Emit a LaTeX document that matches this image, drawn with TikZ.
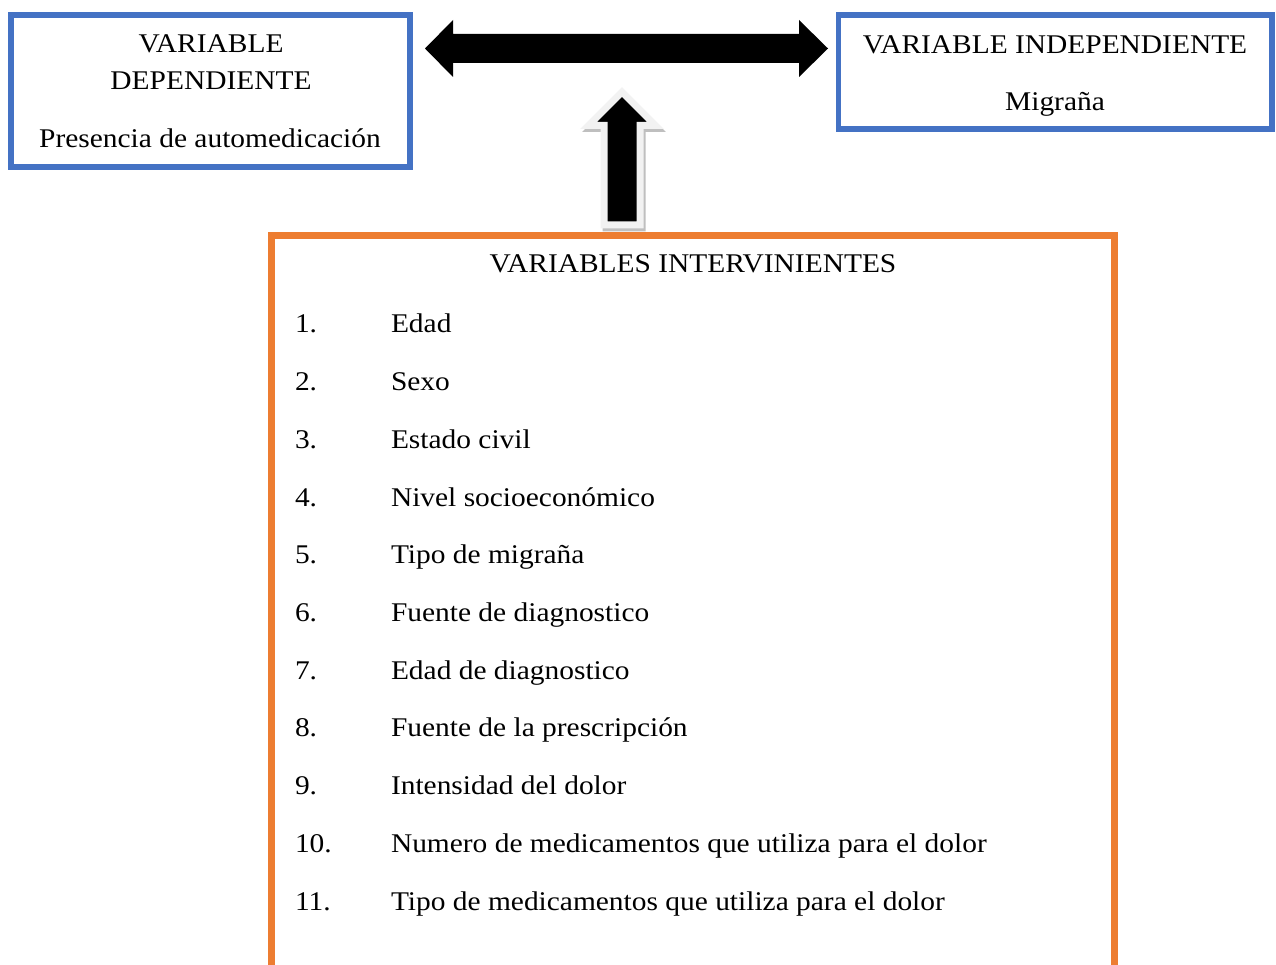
\documentclass[tikz,border=0pt]{standalone}
\usepackage{fontspec}
\setmainfont[FakeStretch=1.09]{Liberation Serif}
\usetikzlibrary{calc}
\definecolor{boxblue}{HTML}{4472C4}
\definecolor{boxorange}{HTML}{ED7D31}
\definecolor{arrowrim}{HTML}{F2F2F2}
\definecolor{arrowshadow}{HTML}{BFBFBF}
\tikzset{
  bluebox/.style={draw=boxblue, line width=5.5pt, rectangle, inner sep=0pt, outer sep=0pt},
  orangebox/.style={draw=boxorange, line width=7pt, rectangle, inner sep=0pt, outer sep=0pt},
  txt/.style={font=\fontsize{27}{32}\selectfont, inner sep=0pt, outer sep=0pt},
  fatarrow/.style={fill=black, draw=none},
}
\begin{document}
\begin{tikzpicture}[x=1pt,y=-1pt]
\useasboundingbox (0,0) rectangle (1276,965);
\clip (0,0) rectangle (1276,965);
% boxes
\node[bluebox, minimum width=399pt, minimum height=152pt] (dep) at (210.5,91) {};
\node[bluebox, minimum width=433.5pt, minimum height=114pt] (indep) at (1055.25,72) {};
\node[orangebox, minimum width=843pt, minimum height=780pt] (interv) at (693,626) {};
% texts of the left box
\node[txt, anchor=base] (depa) at (211,53) {VARIABLE};
\node[txt, anchor=base] (depb) at (211,90) {DEPENDIENTE};
\node[txt, anchor=base] (depc) at (210,148) {Presencia de automedicación};
% texts of the right box
\node[txt, anchor=base] (inda) at (1055,54) {VARIABLE INDEPENDIENTE};
\node[txt, anchor=base] (indb) at (1055,111) {Migraña};
% list
\node[txt, anchor=base] (title) at (693,273) {VARIABLES INTERVINIENTES};
\foreach \n/\t [count=\i from 0] in {1./Edad, 2./Sexo, 3./Estado civil, 4./Nivel socioeconómico, 5./Tipo de migraña, 6./Fuente de diagnostico, 7./Edad de diagnostico, 8./Fuente de la prescripción, 9./Intensidad del dolor, 10./Numero de medicamentos que utiliza para el dolor, 11./Tipo de medicamentos que utiliza para el dolor}{
  \node[txt, anchor=base west] (num\i) at (295,{333+57.7*\i}) {\n};
  \node[txt, anchor=base west] (item\i) at (391,{333+57.7*\i}) {\t};
}
% double arrow between the two variables
\coordinate (la) at (425,48.5);
\coordinate (ra) at (828,48.5);
\fill[fatarrow] (la) -- ($(la)+(28,-28.5)$) -- ($(la)+(28,-14.5)$) -- ($(ra)+(-29,-14.5)$)
  -- ($(ra)+(-29,-28.5)$) -- (ra) -- ($(ra)+(-29,28.5)$) -- ($(ra)+(-29,14.5)$)
  -- ($(la)+(28,14.5)$) -- ($(la)+(28,28.5)$) -- cycle;
% up arrow from the intervening variables
\coordinate (ut) at (622,92);
\coordinate (ub) at (622,225);
\draw[arrowshadow, line width=7pt, fill=arrowshadow, line join=miter]
  ($(ut)+(2,3)$) -- ($(ut)+(35.5,36.5)$) -- ($(ut)+(20,36.5)$) -- ($(ub)+(20,3)$)
  -- ($(ub)+(-16,3)$) -- ($(ut)+(-16,36.5)$) -- ($(ut)+(-31.5,36.5)$) -- cycle;
\draw[arrowrim, line width=7pt, fill=black, line join=miter]
  (ut) -- ($(ut)+(33.5,33.5)$) -- ($(ut)+(18,33.5)$) -- ($(ub)+(18,0)$)
  -- ($(ub)+(-18,0)$) -- ($(ut)+(-18,33.5)$) -- ($(ut)+(-33.5,33.5)$) -- cycle;
\end{tikzpicture}
\end{document}
